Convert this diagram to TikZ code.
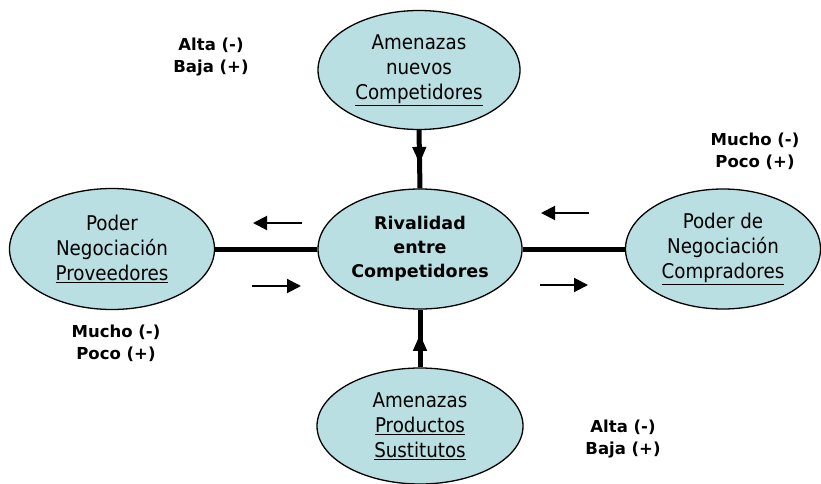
\documentclass[tikz,border=0pt]{standalone}
\usepackage{fontspec}
\setmainfont{DejaVu Sans Condensed}
\newfontfamily\notefont{DejaVu Sans}
\usetikzlibrary{shapes.geometric,arrows.meta,decorations.markings}
\definecolor{ellfill}{HTML}{B9DFE2}
\tikzset{
  force/.style={ellipse, draw=black, line width=1.3pt, fill=ellfill, inner sep=0pt,
    align=center, font=\fontsize{20.3}{25}\selectfont},
  note/.style={align=center, font=\notefont\bfseries\fontsize{16.5}{22}\selectfont},
  link/.style={line width=5pt},
  small/.style={line width=2pt, -{Triangle[length=14pt,width=14pt]}},
  midarrow/.style={postaction={decorate}, decoration={markings,
    mark=at position #1 with {\arrow{Triangle[length=17pt,width=13pt]}}}}
}
\begin{document}
\begin{tikzpicture}[x=1pt,y=-1pt]
\useasboundingbox (0,0) rectangle (821,484);
\node[force, minimum width=202pt, minimum height=119pt] (top) at (419,70)
  {Amenazas\\nuevos\\\underline{Competidores}};
\node[force, minimum width=204pt, minimum height=120pt, font=\notefont\bfseries\fontsize{17.5}{24}\selectfont] (mid) at (420,249)
  {Rivalidad\\entre\\Competidores};
\node[force, minimum width=205pt, minimum height=121pt] (left) at (112,249)
  {Poder\\Negociación\\\underline{Proveedores}};
\node[force, minimum width=195pt, minimum height=120pt] (right) at (723,249)
  {Poder de\\Negociación\\\underline{Compradores}};
\node[force, minimum width=206pt, minimum height=116pt] (bot) at (420,426)
  {Amenazas\\\underline{Productos}\\\underline{Sustitutos}};

\draw[link, midarrow=0.58] (top.south) -- (mid.north);
\draw[link, midarrow=0.58] (bot.north) -- (mid.south);
\draw[link] (left.east) -- (mid.west);
\draw[link] (mid.east) -- (right.west);

\coordinate (la1) at (302,223); \coordinate (la2) at (253,223);
\coordinate (lb1) at (252,286); \coordinate (lb2) at (301,286);
\coordinate (ra1) at (589,213); \coordinate (ra2) at (541,213);
\coordinate (rb1) at (540,285); \coordinate (rb2) at (588,285);
\draw[small] (la1) -- (la2);
\draw[small] (lb1) -- (lb2);
\draw[small] (ra1) -- (ra2);
\draw[small] (rb1) -- (rb2);

\node[note] (n1) at (211,57) {Alta (-)\\Baja (+)};
\node[note] (n2) at (755,151) {Mucho (-)\\Poco (+)};
\node[note] (n3) at (116,343) {Mucho (-)\\Poco (+)};
\node[note] (n4) at (623,439) {Alta (-)\\Baja (+)};
\end{tikzpicture}
\end{document}
